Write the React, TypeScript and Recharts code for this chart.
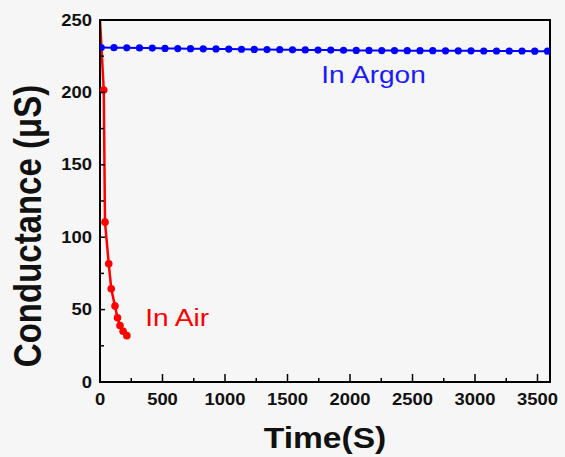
import React from 'react';
import { LineChart, Line, XAxis, YAxis, ReferenceArea, ReferenceDot } from 'recharts';

const argonTime = [10, 112, 214, 316, 418, 520, 622, 724, 826, 928, 1030, 1132, 1234, 1336, 1438, 1540, 1642, 1744, 1846, 1948, 2050, 2152, 2254, 2356, 2458, 2560, 2662, 2764, 2866, 2968, 3070, 3172, 3274, 3376, 3478, 3580];
const argonConductance = [231.0, 230.9, 230.8, 230.7, 230.6, 230.4, 230.3, 230.2, 230.1, 230.0, 229.9, 229.8, 229.7, 229.6, 229.5, 229.4, 229.3, 229.2, 229.2, 229.1, 229.0, 229.0, 228.9, 228.9, 228.8, 228.8, 228.8, 228.7, 228.7, 228.7, 228.6, 228.6, 228.6, 228.6, 228.5, 228.5];

const airTime = [0, 30, 40, 70, 90, 120, 140, 160, 185, 215];
const airConductance = [250, 201.7, 110.4, 81.6, 64.4, 52.4, 44.4, 39.0, 35.0, 32.0];

const xTicks = [0, 250, 500, 750, 1000, 1250, 1500, 1750, 2000, 2250, 2500, 2750, 3000, 3250, 3500];
const yTicks = [0, 25, 50, 75, 100, 125, 150, 175, 200, 225, 250];

const argonData = argonTime.map((t, i) => ({ t, g: argonConductance[i] }));
const airData = airTime.map((t, i) => ({ t, g: airConductance[i] }));

const FONT = '"Liberation Sans", Arial, sans-serif';
const SX = 1.15;

const XTick = (props: any) => {
  const { x, y, payload } = props;
  const v = payload.value;
  const major = v % 500 === 0;
  const axisY = y - 8;
  return (
    <g>
      <line x1={x} x2={x} y1={axisY} y2={axisY - (major ? 8 : 4)} stroke="#000" strokeWidth={1.5} />
      {major && (
        <text
          transform={`translate(${x},${y + 9}) scale(${SX},1)`}
          textAnchor="middle"
          dominantBaseline="central"
          fontFamily={FONT}
          fontWeight="bold"
          fontSize={16}
          fill="#111"
        >
          {v}
        </text>
      )}
    </g>
  );
};

const YTick = (props: any) => {
  const { x, y, payload } = props;
  const v = payload.value;
  const major = v % 50 === 0;
  const axisX = x + 8;
  return (
    <g>
      <line x1={axisX} x2={axisX + (major ? 5 : 4)} y1={y} y2={y} stroke="#000" strokeWidth={1.5} />
      {major && (
        <text
          transform={`translate(${x},${y}) scale(${SX},1)`}
          textAnchor="end"
          dominantBaseline="central"
          fontFamily={FONT}
          fontWeight="bold"
          fontSize={16}
          fill="#111"
        >
          {v}
        </text>
      )}
    </g>
  );
};

const YTitle = (props: any) => {
  const vb = props.viewBox || { x: 0, y: 20, width: 100, height: 362 };
  const cy = vb.y + vb.height / 2 + 25;
  return (
    <text
      transform={`translate(28,${cy}) scale(1.17,1) rotate(-90)`}
      textAnchor="middle"
      dominantBaseline="central"
      fontFamily={FONT}
      fontWeight="bold"
      fontSize={33}
      fill="#111"
    >
      Conductance (μS)
    </text>
  );
};

const XTitle = (props: any) => {
  const vb = props.viewBox || { x: 100, y: 382, width: 450, height: 75 };
  const cx = vb.x + vb.width / 2;
  return (
    <text
      transform={`translate(${cx},448) scale(1.12,1)`}
      textAnchor="middle"
      fontFamily={FONT}
      fontWeight="bold"
      fontSize={30}
      fill="#111"
    >
      Time(S)
    </text>
  );
};

const makeLabel = (text: string, color: string, size: number) => (p: any) => (
  <text
    transform={`translate(${p.cx},${p.cy}) scale(1.17,1)`}
    fontFamily={FONT}
    fontSize={size}
    fill={color}
  >
    {text}
  </text>
);

const AirDot = (props: any) => {
  const { cx, cy, index } = props;
  if (index === 0) return <g key={`d${index}`} />;
  return <circle key={`d${index}`} cx={cx} cy={cy} r={3.8} fill="#ff0000" stroke="none" />;
};

export default function App() {
  return (
    <div style={{ position: 'absolute', left: 0, top: 0, width: 565, height: 457, background: '#f6f6f6' }}>
      <LineChart width={565} height={457} margin={{ top: 20, right: 15, bottom: 0, left: 0 }}>
        <XAxis
          type="number"
          dataKey="t"
          domain={[0, 3600]}
          ticks={xTicks}
          interval={0}
          allowDataOverflow
          height={75}
          tickSize={6}
          tickMargin={2}
          tickLine={false}
          axisLine={{ stroke: '#000', strokeWidth: 2 }}
          tick={<XTick />}
          label={<XTitle />}
        />
        <YAxis
          type="number"
          dataKey="g"
          domain={[0, 250]}
          ticks={yTicks}
          interval={0}
          allowDataOverflow
          width={100}
          tickSize={6}
          tickMargin={2}
          tickLine={false}
          axisLine={{ stroke: '#000', strokeWidth: 2 }}
          tick={<YTick />}
          label={<YTitle />}
        />
        <ReferenceArea x1={0} x2={3600} y1={0} y2={250} fill="none" stroke="#000" strokeWidth={2} ifOverflow="visible" />
        <Line
          data={argonData}
          dataKey="g"
          type="linear"
          stroke="#0000ff"
          strokeWidth={2}
          dot={{ r: 3.6, fill: '#0000ff', stroke: 'none' }}
          isAnimationActive={false}
        />
        <Line
          data={airData}
          dataKey="g"
          type="linear"
          stroke="#ff0000"
          strokeWidth={2.5}
          dot={<AirDot />}
          isAnimationActive={false}
        />
        <ReferenceDot x={1770} y={206.3} r={0} shape={makeLabel('In Argon', '#1a1aff', 24)} ifOverflow="visible" />
        <ReferenceDot x={361} y={39} r={0} shape={makeLabel('In Air', '#ff0000', 24)} ifOverflow="visible" />
      </LineChart>
    </div>
  );
}
